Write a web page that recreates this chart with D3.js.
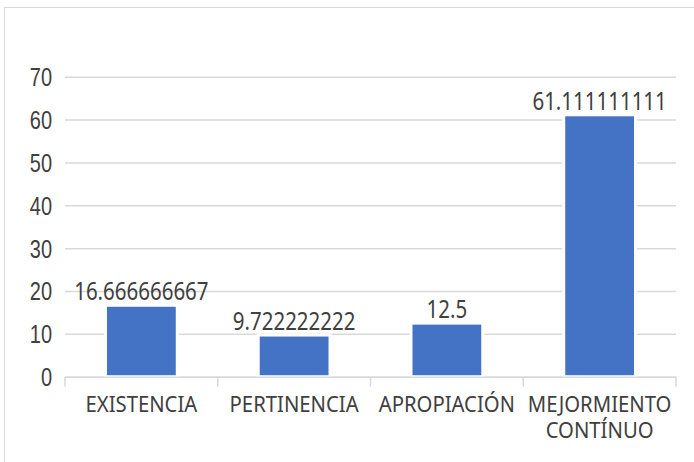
<!DOCTYPE html>
<html>
<head>
<meta charset="utf-8">
<script src="https://cdn.jsdelivr.net/npm/d3@7"></script>
<style>
  html, body { margin: 0; padding: 0; background: #fff; }
  svg { display: block; }
</style>
</head>
<body>
<div id="chart"></div>
<script>
// data
const categories = ["EXISTENCIA", "PERTINENCIA", "APROPIACIÓN", "MEJORMIENTO CONTÍNUO"];
const values = [16.666666667, 9.722222222, 12.5, 61.111111111];
const valueLabels = ["16.666666667", "9.722222222", "12.5", "61.111111111"];
const yTicks = [0, 10, 20, 30, 40, 50, 60, 70];

const width = 694, height = 462;
const m_Plot = { left: 65, right: 676, top: 76.7, bottom: 376.7 };

const svg = d3.select("#chart").append("svg")
  .attr("width", width)
  .attr("height", height);

// chart frame (right / bottom edges are cut off in the picture)
svg.append("rect")
  .attr("x", 4.5).attr("y", 7.5)
  .attr("width", 720).attr("height", 480)
  .attr("fill", "#fff")
  .attr("stroke", "#d9d9d9");

const x = d3.scaleBand()
  .domain(categories)
  .range([m_Plot.left, m_Plot.right])
  .paddingInner(0.53)
  .paddingOuter(0.265);

const y = d3.scaleLinear()
  .domain([0, 70])
  .range([m_Plot.bottom, m_Plot.top]);

/// gridlines + y labels
const yAxis = d3.axisLeft(y)
  .tickValues(yTicks)
  .tickSize(-(m_Plot.right - m_Plot.left))
  .tickPadding(13);

const gy = svg.append("g")
  .attr("transform", "translate(" + m_Plot.left + ",0)")
  .call(yAxis);
gy.select(".domain").remove();
gy.selectAll(".tick line")
  .attr("stroke", "#d9d9d9")
  .attr("stroke-width", 1.5);
// the picture is stretched vertically, so stretch the labels the same way
gy.selectAll(".tick text")
  .attr("fill", "#404040")
  .style("font-family", "'Liberation Sans', Arial, sans-serif")
  .style("font-size", "20px")
  .attr("dy", null)
  .attr("dominant-baseline", "central")
  .attr("transform", "scale(1,1.3)");

/// bars
svg.append("g").selectAll("rect")
  .data(values)
  .enter().append("rect")
  .attr("x", (d, i) => x(categories[i]))
  .attr("y", d => y(d))
  .attr("width", x.bandwidth())
  .attr("height", d => y(0) - y(d))
  .attr("fill", "#4472c4")
  .attr("stroke", "#fff")
  .attr("stroke-width", 3);

/// x axis
const xAxis = d3.axisBottom(x).tickSize(0).tickFormat("");
const gx = svg.append("g")
  .attr("transform", "translate(0," + m_Plot.bottom + ")")
  .call(xAxis);
gx.select(".domain").attr("stroke", "#d9d9d9").attr("stroke-width", 1.5);

// tick marks between categories
const l_Bounds = categories.map(c => x(c) - x.step() * x.paddingInner() / 2);
l_Bounds[0] = m_Plot.left;
l_Bounds.push(m_Plot.right);
svg.append("g").selectAll("line")
  .data(l_Bounds)
  .enter().append("line")
  .attr("x1", d => d).attr("x2", d => d)
  .attr("y1", m_Plot.bottom).attr("y2", m_Plot.bottom + 10)
  .attr("stroke", "#d9d9d9")
  .attr("stroke-width", 1.5);

// category labels, the long one wrapped on its space (one text per line)
const l_CatLines = [];
categories.forEach(c => {
  const words = c === "MEJORMIENTO CONTÍNUO" ? c.split(" ") : [c];
  words.forEach((w, k) => l_CatLines.push({ cat: c, text: w, line: k }));
});
svg.append("g").selectAll("text")
  .data(l_CatLines)
  .enter().append("text")
  .attr("transform", d => "translate(" + (x(d.cat) + x.bandwidth() / 2) + "," + (412 + d.line * 26) + ") scale(1,1.08)")
  .attr("text-anchor", "middle")
  .attr("fill", "#404040")
  .style("font-family", "'Noto Sans', sans-serif")
  .style("font-size", "20.3px")
  .text(d => d.text);

/// value labels
svg.append("g").selectAll("text")
  .data(values)
  .enter().append("text")
  .attr("transform", (d, i) => "translate(" + (x(categories[i]) + x.bandwidth() / 2) + "," + (y(d) - 5) + ") scale(1,1.25)")
  .attr("text-anchor", "middle")
  .attr("fill", "#404040")
  .style("font-family", "'Noto Sans', sans-serif")
  .style("font-size", "20.5px")
  .text((d, i) => valueLabels[i]);
</script>
</body>
</html>
